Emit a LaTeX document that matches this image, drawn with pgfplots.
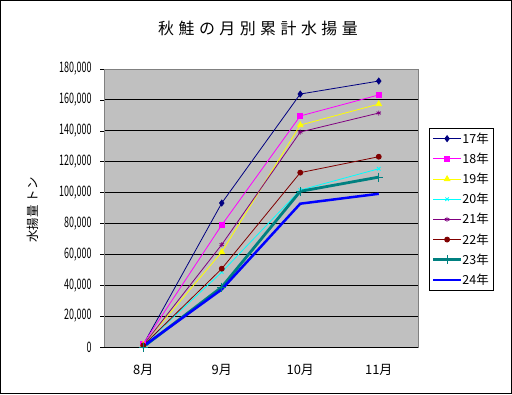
\documentclass[border=0pt]{standalone}
\usepackage{graphicx}
\usepackage{pgfplots}
\pgfplotsset{compat=1.18}
\usepackage{fontspec}
\setmainfont{Noto Sans CJK JP}
\definecolor{plotgray}{HTML}{C0C0C0}
\definecolor{c17}{HTML}{000080}
\definecolor{c18}{HTML}{FF00FF}
\definecolor{c19}{HTML}{FFFF00}
\definecolor{c20}{HTML}{00FFFF}
\definecolor{c21}{HTML}{800080}
\definecolor{c22}{HTML}{800000}
\definecolor{c23}{HTML}{008080}
\definecolor{c24}{HTML}{0000FF}
\begin{document}
\begin{tikzpicture}[x=1bp,y=1bp]
\draw[black,line width=1.2bp] (-103.4,-46.4) rectangle (407.4,346.4);
\node[font=\fontsize{16}{16}\selectfont\addfontfeatures{LetterSpace=28}] at (154,319) {秋鮭の月別累計水揚量};
\node[rotate=90,font=\fontsize{12.5}{12.5}\selectfont] at (-71,137) {水揚量 トン};
\begin{axis}[
  at={(0,0)}, anchor=south west,
  scale only axis, width=314bp, height=278bp,
  xmin=0.5, xmax=4.5, ymin=0, ymax=180000,
  axis background/.style={fill=plotgray},
  axis line style={draw=gray},
  xtick={1,2,3,4}, xticklabels={8月,9月,10月,11月},
  x tick style={draw=none},
  extra x ticks={1.5,2.5,3.5},
  extra x tick labels={},
  extra x tick style={grid=none, tick style={draw=black, thin}, major tick length=4bp},
  ytick={0,20000,...,180000},
  scaled y ticks=false,
  /pgf/number format/assume math mode=true,
  /pgf/number format/fixed,
  /pgf/number format/1000 sep={,},
  yticklabel={\fontsize{14.5}{14.5}\selectfont\scalebox{0.62}[1]{\pgfmathprintnumber{\tick}}},
  yticklabel style={xshift=-5bp},
  ymajorgrids, grid style={black, line width=0.8bp},
  y tick style={black, thin}, major tick length=4bp,
  tick align=outside, tick pos=left,
  xticklabel style={yshift=-10bp, font=\fontsize{13}{13}\selectfont},
  legend image code/.code={\draw[mark repeat=2,mark phase=2] plot coordinates {(0bp,0bp) (14bp,0bp) (28bp,0bp)};},
  legend style={at={(1.035,0.788)}, anchor=north west, draw=black, fill=white,
    font=\fontsize{12.5}{14}\selectfont, row sep=4.2bp, inner sep=2.5bp, legend cell align=left,
    /tikz/every odd column/.append style={column sep=-2bp}},
  clip=false,
]
\addplot[c17, line width=0.8bp, mark=diamond*, mark size=3bp, mark options={fill=c17}] coordinates {(1,1500) (2,93200) (3,163800) (4,172200)};
\addlegendentry{17年}
\addplot[c18, line width=0.8bp, mark=square*, mark size=2.6bp] coordinates {(1,2000) (2,79000) (3,149600) (4,163200)};
\addlegendentry{18年}
\addplot[c19, line width=0.8bp, mark=triangle*, mark size=3.2bp] coordinates {(1,1500) (2,61500) (3,143700) (4,157300)};
\addlegendentry{19年}
\addplot[c20, line width=0.8bp, mark=x, mark size=2.5bp] coordinates {(1,1000) (2,48500) (3,101600) (4,115400)};
\addlegendentry{20年}
\addplot[c21, line width=0.8bp, mark=asterisk, mark size=2.5bp] coordinates {(1,1200) (2,66300) (3,139200) (4,151500)};
\addlegendentry{21年}
\addplot[c22, line width=0.8bp, mark=*, mark size=2.5bp] coordinates {(1,1000) (2,50700) (3,112900) (4,123200)};
\addlegendentry{22年}
\addplot[c23, line width=2.8bp, mark=+, mark size=4.5bp, mark options={line width=0.9bp}] coordinates {(1,0) (2,38800) (3,100800) (4,110000)};
\addlegendentry{23年}
\addplot[c24, line width=2.5bp] coordinates {(1,500) (2,37300) (3,92800) (4,99200)};
\addlegendentry{24年}
\draw[black, line width=0.8bp] (axis description cs:0,0) -- (axis description cs:1,0);
\end{axis}
\end{tikzpicture}
\end{document}
